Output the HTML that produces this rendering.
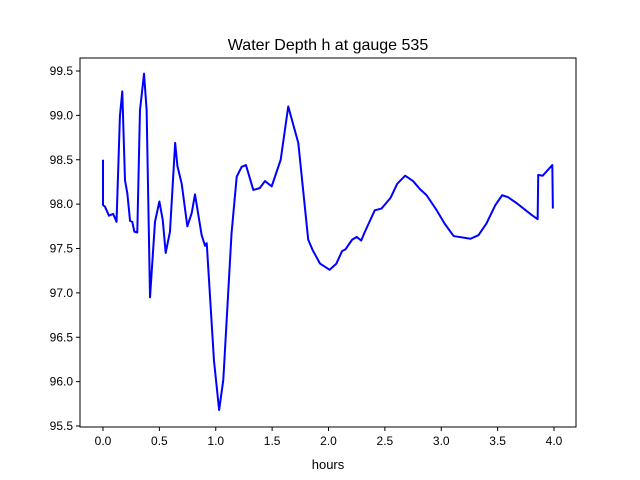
<!DOCTYPE html>
<html><head><meta charset="utf-8">
<style>
body{margin:0;background:#fff;}
svg{display:block;font-family:"Liberation Sans","DejaVu Sans",sans-serif;}
</style></head>
<body>
<svg id="chart" width="640" height="480">
<rect width="640" height="480" fill="#fff"/>
<text x="328" y="50" text-anchor="middle" font-size="16">Water Depth h at gauge 535</text>
<g id="axes"></g>
<text x="328" y="469" text-anchor="middle" font-size="13">hours</text>
</svg>
<script>
const times=[0,0,0.018,0.053,0.09,0.12,0.15,0.171,0.195,0.216,0.24,0.26,0.278,0.304,0.328,0.364,0.387,0.417,0.461,0.50,0.53,0.556,0.594,0.64,0.66,0.698,0.748,0.787,0.816,0.875,0.905,0.92,0.984,1.03,1.067,1.14,1.186,1.23,1.268,1.333,1.39,1.437,1.496,1.576,1.643,1.732,1.82,1.86,1.925,2.01,2.07,2.12,2.15,2.21,2.25,2.29,2.32,2.41,2.47,2.55,2.61,2.68,2.75,2.81,2.87,2.96,3.03,3.11,3.26,3.33,3.40,3.48,3.54,3.59,3.67,3.73,3.80,3.855,3.86,3.90,3.985,3.99];
const depths=[98.50,97.99,97.97,97.87,97.89,97.80,98.99,99.27,98.27,98.12,97.81,97.80,97.69,97.68,99.06,99.47,99.06,96.95,97.80,98.03,97.82,97.45,97.69,98.69,98.43,98.23,97.75,97.90,98.11,97.65,97.53,97.56,96.24,95.68,96.02,97.67,98.31,98.42,98.44,98.16,98.18,98.26,98.20,98.50,99.10,98.69,97.60,97.48,97.33,97.26,97.33,97.47,97.49,97.60,97.63,97.59,97.68,97.93,97.95,98.07,98.23,98.32,98.26,98.17,98.10,97.93,97.78,97.64,97.61,97.65,97.78,97.99,98.10,98.08,98.01,97.95,97.88,97.83,98.33,98.32,98.44,97.95];
const xTicks=[0,0.5,1,1.5,2,2.5,3,3.5,4];
const xTickLabels=["0.0","0.5","1.0","1.5","2.0","2.5","3.0","3.5","4.0"];
const yTicks=[95.5,96,96.5,97,97.5,98,98.5,99,99.5];
const yTickLabels=["95.5","96.0","96.5","97.0","97.5","98.0","98.5","99.0","99.5"];

const L=80,R=576,T=58,B=427;
const xs=t=>103+(t-0)*(451/4);
const ys=v=>71+(99.5-v)*(355/4);
const g=document.getElementById('axes');
const NS='http://www.w3.org/2000/svg';
function mk(tag,attrs){const e=document.createElementNS(NS,tag);for(const k in attrs)e.setAttribute(k,attrs[k]);g.appendChild(e);return e;}
let d='';
times.forEach((t,i)=>{d+=(i?'L':'M')+xs(t).toFixed(2)+' '+ys(depths[i]).toFixed(2);});
const line=mk('path',{d:d,fill:'none',stroke:'#0000ff','stroke-width':2,'stroke-linejoin':'round'});


const frame=mk('rect',{x:L,y:T,width:R-L,height:B-T,fill:'none',stroke:'#000','stroke-width':1});


xTicks.forEach((t,i)=>{
 const x=xs(t);
 const tk=mk('line',{x1:x,x2:x,y1:B,y2:B+4,stroke:'#000'});
 
 
 const lb=mk('text',{x:x,y:B+18,'text-anchor':'middle','font-size':12});
 lb.textContent=xTickLabels[i];
 
 
});
yTicks.forEach((v,i)=>{
 const y=ys(v);
 const tk=mk('line',{x1:L-4,x2:L,y1:y,y2:y,stroke:'#000'});
 
 
 const lb=mk('text',{x:L-7,y:y+4,'text-anchor':'end','font-size':12});
 lb.textContent=yTickLabels[i];
 
 
});
</script>
</body></html>
